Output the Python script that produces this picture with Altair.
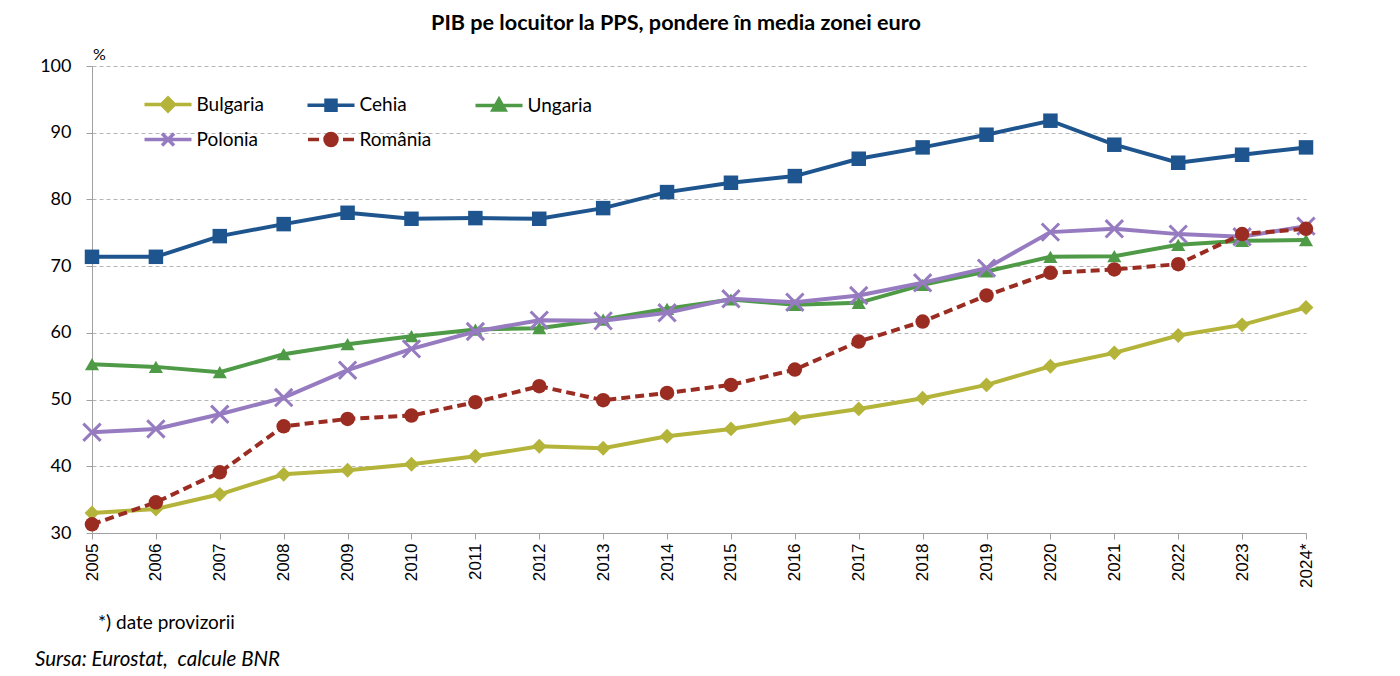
import altair as alt
import pandas as pd

years = ["2005", "2006", "2007", "2008", "2009", "2010", "2011", "2012", "2013", "2014",
         "2015", "2016", "2017", "2018", "2019", "2020", "2021", "2022", "2023", "2024*"]

bulgaria = [33.0, 33.6, 35.8, 38.8, 39.4, 40.3, 41.5, 43.0, 42.7, 44.5,
            45.6, 47.2, 48.6, 50.2, 52.2, 55.0, 57.0, 59.6, 61.2, 63.8]
cehia = [71.4, 71.4, 74.5, 76.3, 78.0, 77.1, 77.2, 77.1, 78.7, 81.1,
         82.5, 83.5, 86.1, 87.8, 89.7, 91.8, 88.2, 85.5, 86.7, 87.8]
ungaria = [55.3, 54.9, 54.1, 56.8, 58.3, 59.5, 60.5, 60.7, 62.0, 63.6,
           65.0, 64.2, 64.5, 67.2, 69.2, 71.4, 71.5, 73.2, 73.8, 73.9]
polonia = [45.1, 45.6, 47.8, 50.3, 54.4, 57.6, 60.2, 61.9, 61.8, 63.0,
           65.1, 64.6, 65.6, 67.5, 69.7, 75.1, 75.6, 74.8, 74.4, 76.0]
romania = [31.3, 34.6, 39.1, 46.0, 47.1, 47.6, 49.6, 52.0, 49.9, 51.0,
           52.2, 54.5, 58.7, 61.7, 65.6, 69.0, 69.5, 70.3, 74.8, 75.6]

countries = ["Bulgaria", "Cehia", "Ungaria", "Polonia", "România"]
colors = ["#B4B43A", "#1E558E", "#4E9A46", "#967BC1", "#9B2C22"]
series = [bulgaria, cehia, ungaria, polonia, romania]
y_ticks = [30, 40, 50, 60, 70, 80, 90, 100]

rows = []
for c, vals in zip(countries, series):
    for yr, v in zip(years, vals):
        rows.append({"year": yr, "country": c, "value": v})
df = pd.DataFrame(rows)

W, H = 1214, 467

x_enc = alt.X("year:O", sort=years, title=None,
              scale=alt.Scale(type="point", padding=0),
              axis=alt.Axis(labelAngle=-90, labelFont="Liberation Sans", labelFontSize=17,
                            labelColor="black", tickSize=6, tickColor="#A0A0A0",
                            domainColor="#A0A0A0", labelPadding=4, grid=False))
y_enc = alt.Y("value:Q", title=None,
              scale=alt.Scale(domain=[30, 100], nice=False, zero=False),
              axis=alt.Axis(values=y_ticks, grid=True, gridDash=[4, 3], gridColor="#B5B5B5",
                            domainColor="#A0A0A0", tickColor="#A0A0A0", tickSize=6,
                            labelPadding=15, labelFont="Lato", labelFontSize=18,
                            labelColor="black"))
color_scale = alt.Scale(domain=countries, range=colors)

marker_cfg = {
    "Bulgaria": dict(shape="diamond", size=220, filled=True),
    "Cehia": dict(shape="square", size=210, filled=True),
    "Ungaria": dict(shape="triangle-up", size=200, filled=True),
    "Polonia": dict(shape="M-1,-1L1,1M-1,1L1,-1", size=300, filled=False, strokeWidth=3),
    "România": dict(shape="circle", size=210, filled=True),
}

leg = alt.Legend(title=None, orient="none", legendX=50, legendY=29, direction="horizontal",
                 columns=3, columnPadding=36, rowPadding=8, labelFont="Lato",
                 labelFontSize=19, labelColor="black", symbolSize=100, symbolStrokeWidth=3.5,
                 symbolOpacity=1, symbolOffset=16.5, labelOffset=19, padding=0)

layers = []
for c in countries:
    base = alt.Chart(df).transform_filter(alt.datum.country == c)
    line_kwargs = dict(strokeWidth=4)
    if c == "România":
        line_kwargs["strokeDash"] = [9, 5]
    line = base.mark_line(**line_kwargs).encode(
        x=x_enc, y=y_enc,
        color=alt.Color("country:N", scale=color_scale, legend=leg))
    pts = base.mark_point(opacity=1, **marker_cfg[c]).encode(
        x=x_enc, y=y_enc,
        color=alt.Color("country:N", scale=color_scale, legend=leg))
    layers += [line, pts]

legend_paths = [
    "M-4.7,0H4.7M0,-1.3L1.3,0L0,1.3L-1.3,0Z",
    "M-4.7,0H4.7M-1,-1H1V1H-1Z",
    "M-4.7,0H4.7M0,-1.25L1.2,0.9H-1.2Z",
    "M-4.7,0H4.7M-1.2,-1.2L1.2,1.2M-1.2,1.2L1.2,-1.2",
    "M-4.6,0H-2.4M2.4,0H4.6M-1.2,0A1.2,1.2 0 1,0 1.2,0A1.2,1.2 0 1,0 -1.2,0Z",
]

legend_layer = alt.Chart(df).mark_point(opacity=0, filled=False, strokeWidth=3.5).encode(
    x=x_enc, y=y_enc,
    color=alt.Color("country:N", scale=color_scale, legend=leg),
    fill=alt.Fill("country:N", scale=color_scale, legend=leg),
    shape=alt.Shape("country:N", scale=alt.Scale(domain=countries, range=legend_paths), legend=leg),
)
layers.append(legend_layer)

def text_layer(txt, xv, yv, **kw):
    return alt.Chart(pd.DataFrame({"t": [txt]})).mark_text(**kw).encode(
        x=alt.value(xv), y=alt.value(yv), text="t:N")

layers.append(text_layer("PIB pe locuitor  la PPS, pondere în media zonei euro", 584, -36,
                         font="Lato", fontSize=21.6, fontWeight="bold", align="center",
                         baseline="alphabetic", color="black"))
layers.append(text_layer("%", 1, -6, font="Lato", fontSize=16, align="left",
                         baseline="alphabetic", color="black"))
layers.append(text_layer("*) date provizorii", 6, 563, font="Lato", fontSize=19, align="left",
                         baseline="alphabetic", color="black"))
layers.append(text_layer("Sursa: Eurostat,\u00a0 calcule BNR", -57, 600, font="Lato", fontSize=20.5,
                         fontStyle="italic", align="left", baseline="alphabetic", color="black"))

chart = alt.layer(*layers).properties(
    width=W, height=H,
    autosize=alt.AutoSizeParams(type="none"),
    padding={"left": 84, "top": 58, "right": 70, "bottom": 138},
).configure_view(stroke=None)

chart.save("out.html", embed_options={"renderer": "svg", "actions": False})
